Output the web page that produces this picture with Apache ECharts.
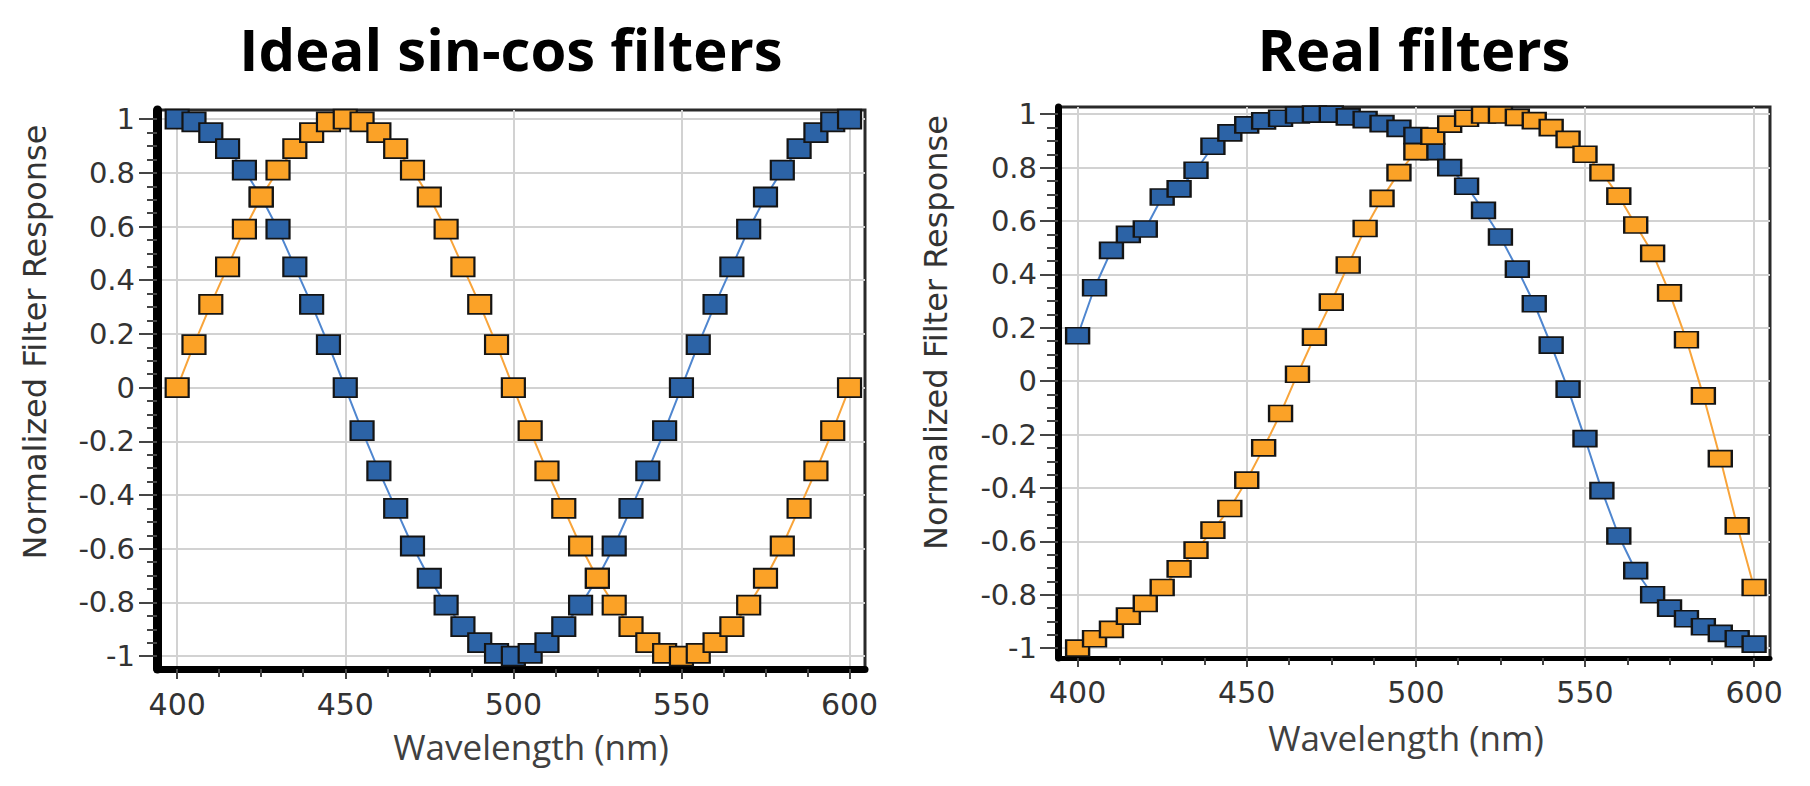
<!DOCTYPE html>
<html>
<head>
<meta charset="utf-8">
<script src="https://cdn.jsdelivr.net/npm/echarts@6.0.0/dist/echarts.min.js"></script>
<style>
html,body{margin:0;padding:0;background:#fff;}
#c{width:1810px;height:786px;}
</style>
</head>
<body>
<div id="c"></div>
<script>
// ---- data ----
const wavelengths = [400,405,410,415,420,425,430,435,440,445,450,455,460,465,470,475,480,485,490,495,500,
                     505,510,515,520,525,530,535,540,545,550,555,560,565,570,575,580,585,590,595,600];

const idealBlue = [1,0.99,0.95,0.89,0.81,0.71,0.59,0.45,0.31,0.16,0,-0.16,-0.31,-0.45,-0.59,-0.71,-0.81,-0.89,-0.95,-0.99,-1,
                   -0.99,-0.95,-0.89,-0.81,-0.71,-0.59,-0.45,-0.31,-0.16,0,0.16,0.31,0.45,0.59,0.71,0.81,0.89,0.95,0.99,1];
const idealOrange = [0,0.16,0.31,0.45,0.59,0.71,0.81,0.89,0.95,0.99,1,0.99,0.95,0.89,0.81,0.71,0.59,0.45,0.31,0.16,0,
                     -0.16,-0.31,-0.45,-0.59,-0.71,-0.81,-0.89,-0.95,-0.99,-1,-0.99,-0.95,-0.89,-0.81,-0.71,-0.59,-0.45,-0.31,-0.16,0];

const realBlue = [0.17,0.35,0.49,0.55,0.57,0.69,0.72,0.79,0.88,0.93,0.96,0.975,0.985,0.997,1,1,0.99,0.98,0.965,0.947,0.92,
                  0.86,0.80,0.73,0.64,0.54,0.42,0.29,0.135,-0.03,-0.215,-0.41,-0.58,-0.71,-0.80,-0.85,-0.89,-0.92,-0.945,-0.965,-0.985];
const realOrange = [-1,-0.965,-0.93,-0.88,-0.833,-0.773,-0.703,-0.633,-0.558,-0.477,-0.371,-0.25,-0.121,0.026,0.165,0.296,0.435,0.572,0.685,0.781,0.86,
                    0.918,0.963,0.985,0.997,0.997,0.988,0.976,0.95,0.906,0.85,0.781,0.693,0.585,0.479,0.331,0.155,-0.055,-0.29,-0.542,-0.773];

const xMajorTicks = [400,450,500,550,600];
const xMinorTicks = [412.5,425,437.5,462.5,475,487.5,512.5,525,537.5,562.5,575,587.5];
const yMajorTicks = [-1,-0.8,-0.6,-0.4,-0.2,0,0.2,0.4,0.6,0.8,1];
const yMinorTicks = [-0.95,-0.9,-0.85,-0.75,-0.7,-0.65,-0.55,-0.5,-0.45,-0.35,-0.3,-0.25,-0.15,-0.1,-0.05,
                     0.05,0.1,0.15,0.25,0.3,0.35,0.45,0.5,0.55,0.65,0.7,0.75,0.85,0.9,0.95];

const titles = ['Ideal sin-cos filters', 'Real filters'];
const xName = 'Wavelength (nm)';
const yName = 'Normalized Filter Response';

// ---- styling ----
const BLUE_FILL = '#2c63a6', BLUE_LINE = '#4f86cf';
const ORANGE_FILL = '#fba227', ORANGE_LINE = '#f8a43a';
const LABEL_FONT = 'DejaVu Sans';

const panels = [
  {grid:{left:157, top:110, width:708, height:559}, xMin:394, xMax:604.6, yMin:-1.048, yMax:1.034,
   yLine:9, xLine:7, yTickMaj:18, yTickMin:10, xTickMaj:10, xTickMin:8,
   yLabelMargin:22, xLabelMargin:20, xNameGap:60, xNamePad:[0,0,0,40], yNameGap:106, yNamePad:[0,0,0,95],
   symbolSize:[23,19], titleX:511, blue:idealBlue, orange:idealOrange},
  {grid:{left:1058, top:107, width:712, height:551}, xMin:394.2, xMax:604.7, yMin:-1.037, yMax:1.027,
   yLine:7, xLine:5, yTickMaj:18, yTickMin:11, xTickMaj:9, xTickMin:7,
   yLabelMargin:21, xLabelMargin:19, xNameGap:62, xNamePad:[0,16,0,0], yNameGap:106, yNamePad:[0,0,0,100],
   symbolSize:[23,16], titleX:1414, blue:realBlue, orange:realOrange}
];

const grid = [], xAxis = [], yAxis = [], series = [], title = [];
panels.forEach((p, i) => {
  grid.push(Object.assign({show:true, borderColor:'#2a2a2a', borderWidth:3, backgroundColor:'transparent',
                           containLabel:false, outerBoundsMode:'none'}, p.grid));
  title.push({text:titles[i], left:p.titleX, top:19, textAlign:'center', padding:0,
              textStyle:{fontFamily:'Open Sans', fontWeight:'bold', fontSize:58, lineHeight:58, color:'#000'}});
  // major x axis
  xAxis.push({gridIndex:i, type:'value', min:p.xMin, max:p.xMax, position:'bottom',
    axisLine:{show:true, onZero:false, lineStyle:{color:'#000', width:p.xLine}},
    axisTick:{show:true, customValues:xMajorTicks, length:p.xTickMaj, inside:false, lineStyle:{color:'#444', width:2}},
    axisLabel:{show:true, customValues:xMajorTicks, margin:p.xLabelMargin, fontFamily:LABEL_FONT, fontSize:30, color:'#333',
               showMinLabel:true, showMaxLabel:true},
    splitLine:{show:true, lineStyle:{color:'#d2d2d2', width:2}},
    name:xName, nameLocation:'middle', nameGap:p.xNameGap,
    nameTextStyle:{fontFamily:'Open Sans', fontSize:35, lineHeight:35, color:'#404040', padding:p.xNamePad}
  });
  // minor x ticks
  xAxis.push({gridIndex:i, type:'value', min:p.xMin, max:p.xMax, position:'bottom',
    axisLine:{show:false, onZero:false},
    axisTick:{show:true, customValues:xMinorTicks, length:p.xTickMin, lineStyle:{color:'#444', width:2}},
    axisLabel:{show:false}, splitLine:{show:false}
  });
  // major y axis
  yAxis.push({gridIndex:i, type:'value', min:p.yMin, max:p.yMax, position:'left',
    axisLine:{show:true, onZero:false, lineStyle:{color:'#000', width:p.yLine}},
    axisTick:{show:true, customValues:yMajorTicks, length:p.yTickMaj, lineStyle:{color:'#444', width:2}},
    axisLabel:{show:true, customValues:yMajorTicks, margin:p.yLabelMargin, fontFamily:LABEL_FONT, fontSize:29, color:'#333'},
    splitLine:{show:true, lineStyle:{color:'#d2d2d2', width:2}},
    name:yName, nameLocation:'middle', nameGap:p.yNameGap, nameRotate:90,
    nameTextStyle:{fontFamily:LABEL_FONT, fontSize:32, lineHeight:32, color:'#333', padding:p.yNamePad}
  });
  // minor y ticks
  yAxis.push({gridIndex:i, type:'value', min:p.yMin, max:p.yMax, position:'left',
    axisLine:{show:false, onZero:false},
    axisTick:{show:true, customValues:yMinorTicks, length:p.yTickMin, lineStyle:{color:'#444', width:2}},
    axisLabel:{show:false}, splitLine:{show:false}
  });
  const xi = i * 2, yi = i * 2;
  [[p.blue, BLUE_FILL, BLUE_LINE], [p.orange, ORANGE_FILL, ORANGE_LINE]].forEach(([vals, fill, line]) => {
    series.push({
      type:'line', xAxisIndex:xi, yAxisIndex:yi,
      data: wavelengths.map((w, k) => [w, vals[k]]),
      symbol:'rect', symbolSize:p.symbolSize, showSymbol:true, clip:false,
      lineStyle:{color:line, width:2},
      itemStyle:{color:fill, borderColor:'#141414', borderWidth:2},
      emphasis:{disabled:true}, silent:true
    });
  });
});

const chart = echarts.init(document.getElementById('c'), null, {renderer:'svg', width:1810, height:786});
chart.setOption({
  animation:false,
  backgroundColor:'#ffffff',
  title, grid, xAxis, yAxis, series,
  tooltip:{show:false}
});
</script>
</body>
</html>
